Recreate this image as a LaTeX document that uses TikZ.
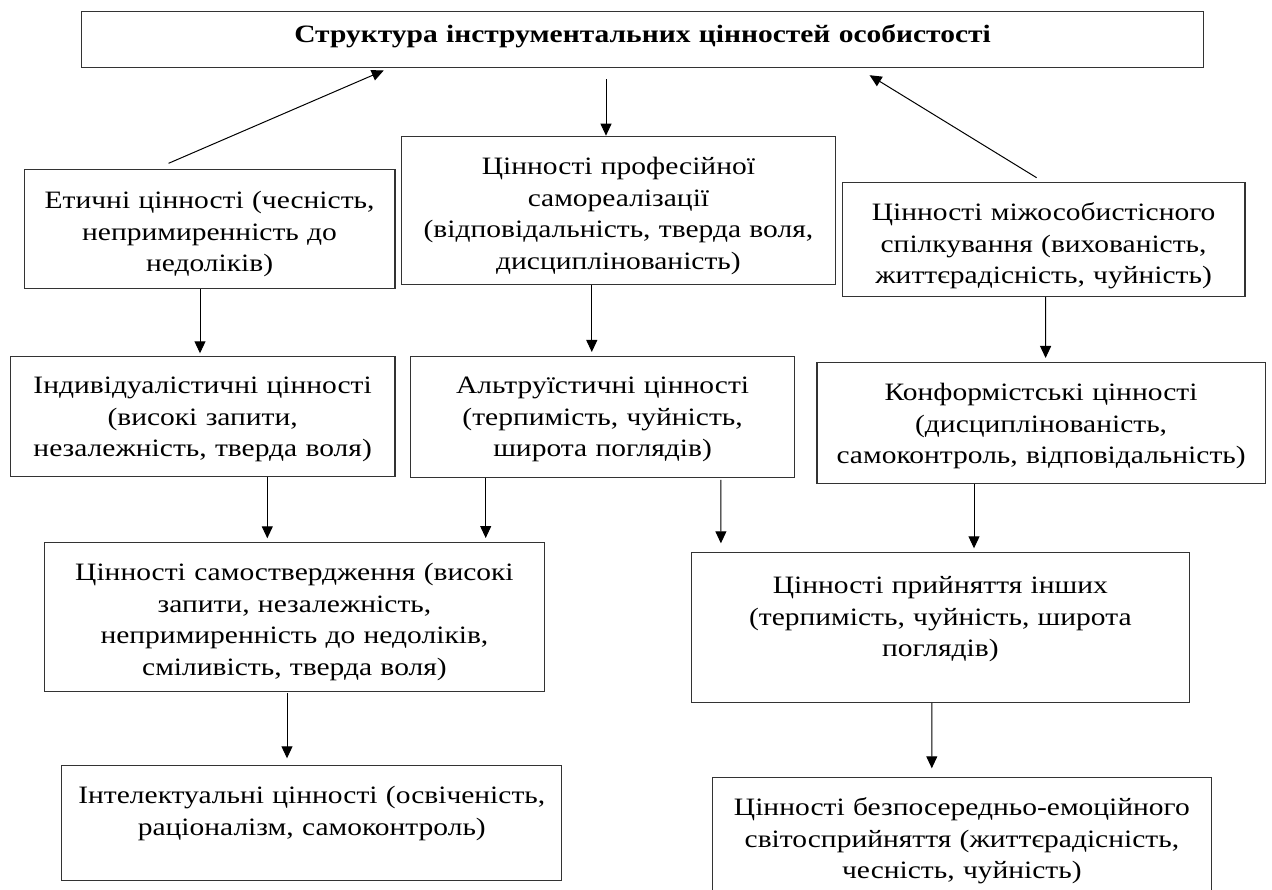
\documentclass[tikz,border=0pt]{standalone}
\usepackage{fontspec}
\setmainfont{Liberation Serif}[FakeStretch=1.18]
\usetikzlibrary{arrows.meta}

\begin{document}
\begin{tikzpicture}[x=1pt, y=-1pt,
    box/.style={draw=black!80, line width=1.2pt, anchor=north west,
      inner xsep=0pt, inner ysep=0pt, align=center,
      font=\fontsize{25}{31.5}\selectfont},
    arr/.style={-{Triangle[length=12pt,width=11pt]}, line width=1pt}]
  \path[use as bounding box] (0,0) rectangle (1272,890);
  \clip (0,0) rectangle (1272,890);

  % top
  \node[box, text width=1122pt, text height=31pt, text depth=25pt,
    font=\fontsize{25}{31.5}\selectfont\bfseries] (title) at (81,11)
    {Структура інструментальних цінностей особистості};

  % first row
  \node[box, text width=370.6pt, text height=39pt, text depth=80pt] (ethic) at (23.7,169.3)
    {Етичні цінності (чесність,\\ непримиренність до\\ недоліків)};
  \node[box, text width=433.7pt, text height=38.3pt, text depth=110pt] (prof) at (401,135.7)
    {Цінності професійної\\ самореалізації\\ (відповідальність, тверда воля,\\ дисциплінованість)};
  \node[box, text width=402.6pt, text height=38.3pt, text depth=76pt] (inter) at (841.7,181.7)
    {Цінності міжособистісного\\ спілкування (вихованість,\\ життєрадісність, чуйність)};

  % second row
  \node[box, text width=384.5pt, text height=37.3pt, text depth=82.7pt] (indiv) at (9.8,356)
    {Індивідуалістичні цінності\\ (високі запити,\\ незалежність, тверда воля)};
  \node[box, text width=383.6pt, text height=37pt, text depth=83.7pt] (altru) at (410.2,356)
    {Альтруїстичні цінності\\ (терпимість, чуйність,\\ широта поглядів)};
  \node[box, text width=448.4pt, text height=37.7pt, text depth=82.7pt] (conf) at (816.3,362.3)
    {Конформістські цінності\\ (дисциплінованість,\\ самоконтроль, відповідальність)};

  % third row
  \node[box, text width=499.7pt, text height=38.3pt, text depth=110.7pt] (selfas) at (44,541.7)
    {Цінності самоствердження (високі\\ запити, незалежність,\\ непримиренність до недоліків,\\ сміливість, тверда воля)};
  \node[box, text width=498.4pt, text height=41.3pt, text depth=108.7pt] (accept) at (690.6,551.7)
    {Цінності прийняття інших\\ (терпимість, чуйність, широта\\ поглядів)};

  % bottom
  \node[box, text width=500pt, text height=38pt, text depth=77pt] (intel) at (61.2,765)
    {Інтелектуальні цінності (освіченість,\\ раціоналізм, самоконтроль)};
  \node[box, text width=498.8pt, text height=38.3pt, text depth=90pt] (emot) at (711.9,776.7)
    {Цінності безпосередньо-емоційного\\ світосприйняття (життєрадісність,\\ чесність, чуйність)};

  % arrows
  \draw[arr] ([xshift=144.9pt, yshift=6pt]ethic.north west) -- ([xshift=302.7pt, yshift=-2.3pt]title.south west);
  \draw[arr] ([xshift=525pt, yshift=-11.3pt]title.south west) -- ([xshift=205pt]prof.north west);
  \draw[arr] ([xshift=194.9pt, yshift=4pt]inter.north west) -- ([xshift=788.6pt, yshift=-7pt]title.south west);
  \draw[arr] ([xshift=176.3pt]ethic.south west) -- ([xshift=190.2pt, yshift=2.7pt]indiv.north west);
  \draw[arr] ([xshift=190.8pt]prof.south west) -- ([xshift=181.6pt, yshift=4pt]altru.north west);
  \draw[arr] ([xshift=203.9pt]inter.south west) -- ([xshift=229.3pt, yshift=4.3pt]conf.north west);
  \draw[arr] ([xshift=257.5pt]indiv.south west) -- ([xshift=223.3pt, yshift=3.4pt]selfas.north west);
  \draw[arr] ([xshift=75.5pt]altru.south west) -- ([xshift=441.7pt, yshift=3.7pt]selfas.north west);
  \draw[arr] ([xshift=310.7pt, yshift=-2pt]altru.south west) -- ([xshift=30.3pt, yshift=8.4pt]accept.north west);
  \draw[arr] ([xshift=157.7pt]conf.south west) -- ([xshift=283.4pt, yshift=3.4pt]accept.north west);
  \draw[arr] ([xshift=243pt, yshift=-1pt]selfas.south west) -- ([xshift=225.8pt, yshift=6.7pt]intel.north west);
  \draw[arr] ([xshift=241.2pt]accept.south west) -- ([xshift=219.9pt, yshift=8.4pt]emot.north west);
\end{tikzpicture}
\end{document}
